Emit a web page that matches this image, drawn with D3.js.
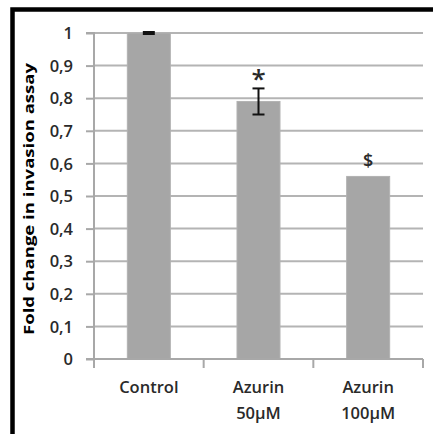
<!DOCTYPE html>
<html>
<head>
<meta charset="utf-8">
<script src="https://cdn.jsdelivr.net/npm/d3@7"></script>
<style>
  html, body { margin: 0; padding: 0; background: #fff; }
  svg { display: block; }
  text { font-family: "Open Sans", "Liberation Sans", sans-serif; }
</style>
</head>
<body>
<script>
// Invasion assay: fold change relative to control
const categories = [["Control"], ["Azurin", "50\u00b5M"], ["Azurin", "100\u00b5M"]];
const values = [1.0, 0.79, 0.56];
const errors = [0.003, 0.04, 0];
const marks = ["", "*", "$"];
const yTicks = [0, 0.1, 0.2, 0.3, 0.4, 0.5, 0.6, 0.7, 0.8, 0.9, 1];
const yTitle = "Fold change in invasion assay";

const W = 433, H = 434;
const svg = d3.select("body").append("svg").attr("width", W).attr("height", H);

// Frame: thick black top and left edges
svg.append("path")
  .attr("d", `M12.5,${H} V9.5 H${W}`)
  .attr("fill", "none").attr("stroke", "#000").attr("stroke-width", 4.5);

const x0 = 94, x1 = 423, yTop = 33, yBot = 359;
const x = d3.scaleBand().domain(d3.range(categories.length)).range([x0, x1]).paddingInner(0).paddingOuter(0);
const y = d3.scaleLinear().domain([0, 1]).range([yBot, yTop]);

// Horizontal gridlines
svg.append("g").selectAll("line").data(yTicks.slice(1)).join("line")
  .attr("x1", x0).attr("x2", x1)
  .attr("y1", d => y(d)).attr("y2", d => y(d))
  .attr("stroke", "#b4b4b4").attr("stroke-width", 2);

// Bars
const barW = 43;
svg.append("g").selectAll("rect").data(values).join("rect")
  .attr("x", (d, i) => x(i) + x.bandwidth() / 2 - barW / 2)
  .attr("width", barW)
  .attr("y", d => y(d))
  .attr("height", d => y(0) - y(d))
  .attr("fill", "#a6a6a6")
  .attr("stroke", "#b2b2b2").attr("stroke-width", 1);

// Y axis
const yAxis = d3.axisLeft(y).tickValues(yTicks).tickSize(8).tickPadding(13)
  .tickFormat(d => d3.format("")(d).replace(".", ","));
const gy = svg.append("g").attr("transform", `translate(${x0},0)`).call(yAxis);
gy.select(".domain").attr("stroke", "#a8a8a8").attr("stroke-width", 2).attr("d", `M-8,${yTop}H0V${yBot}H-8`);
gy.selectAll(".tick line").attr("stroke", "#a8a8a8").attr("stroke-width", 2);
gy.selectAll(".tick text").attr("fill", "#2a2a2a").attr("font-size", 16.5).attr("font-weight", 600).attr("dy", "0.35em");

// X axis
const gx = svg.append("g").attr("transform", `translate(0,${yBot})`);
gx.append("line").attr("x1", x0 - 8).attr("x2", x1).attr("y1", 0).attr("y2", 0)
  .attr("stroke", "#a8a8a8").attr("stroke-width", 2);
const bounds = d3.range(categories.length + 1).map(i => i < categories.length ? x(i) : x1);
gx.selectAll("line.tk").data(bounds).join("line").attr("class", "tk")
  .attr("x1", d => d).attr("x2", d => d).attr("y1", 0).attr("y2", 9)
  .attr("stroke", "#a8a8a8").attr("stroke-width", 2);
gx.selectAll("text.cat").data(categories).join("text").attr("class", "cat")
  .attr("x", (d, i) => x(i) + x.bandwidth() / 2)
  .attr("text-anchor", "middle").attr("fill", "#2a2a2a").attr("font-size", 16.5).attr("font-weight", 600)
  .each(function(d) {
    d3.select(this).selectAll("tspan").data(d).join("tspan")
      .attr("x", d3.select(this).attr("x"))
      .attr("y", (t, j) => 34 + j * 26)
      .text(t => t);
  });

// Error bars
const eg = svg.append("g").attr("stroke", "#111").attr("stroke-width", 2);
values.forEach((v, i) => {
  if (!errors[i]) return;
  const cx = x(i) + x.bandwidth() / 2;
  eg.append("line").attr("x1", cx).attr("x2", cx).attr("y1", y(v + errors[i])).attr("y2", y(v - errors[i]));
  [v + errors[i], v - errors[i]].forEach(e =>
    eg.append("line").attr("x1", cx - 6).attr("x2", cx + 6).attr("y1", y(e)).attr("y2", y(e)));
});

// Significance marks
svg.append("g").selectAll("text").data(values).join("text")
  .attr("x", (d, i) => x(i) + x.bandwidth() / 2)
  .attr("y", (d, i) => y(d + errors[i]) - (marks[i] === "*" ? 0 : 9))
  .attr("text-anchor", "middle").attr("fill", "#2a2a2a")
  .attr("font-size", (d, i) => marks[i] === "*" ? 26 : 18).attr("font-weight", 600)
  .text((d, i) => marks[i]);

// Y title
svg.append("text")
  .attr("transform", `translate(34,${(yTop + yBot) / 2 + 3}) rotate(-90)`)
  .attr("text-anchor", "middle").attr("font-size", 15).attr("font-weight", 700).attr("fill", "#000")
  .attr("textLength", 272).attr("lengthAdjust", "spacingAndGlyphs")
  .text(yTitle);
</script>
</body>
</html>
